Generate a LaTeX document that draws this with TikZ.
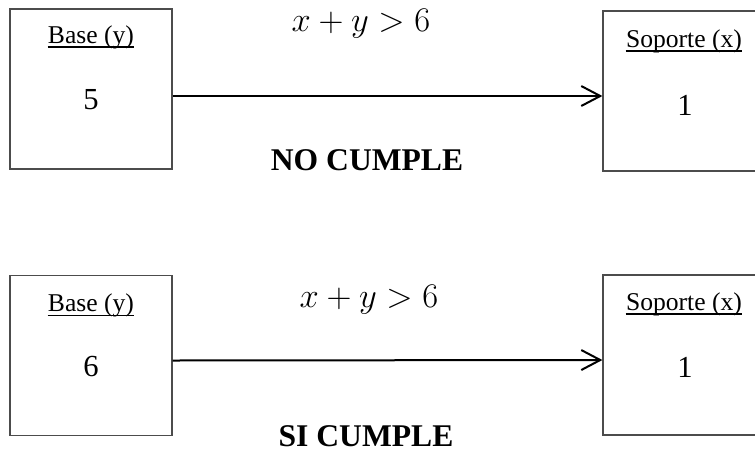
\documentclass[tikz,border=0pt]{standalone}
\usepackage{fontspec}
\setmainfont{Liberation Serif}
\usetikzlibrary{arrows.meta}
\tikzset{
	caja/.style={draw=black!70,line width=0.6pt,minimum width=81pt,minimum height=80pt,inner sep=0pt},
	titulo/.style={anchor=base,inner sep=0pt,font=\fontsize{12.8}{15}\selectfont},
	valor/.style={inner sep=0pt,font=\fontsize{15.3}{18}\selectfont},
	cond/.style={inner sep=0pt,font=\fontsize{17}{20}\selectfont},
	veredicto/.style={inner sep=0pt,font=\fontsize{15.8}{18}\selectfont\bfseries},
	flecha/.style={line width=1pt,-{Straight Barb[length=9.5pt,width=10pt]}},
	subraya/.style={line width=0.8pt}
}
\begin{document}
\begin{tikzpicture}[x=0.5pt,y=-0.5pt,line cap=butt,line join=miter]
		\clip (0,0) rectangle (755,451);
		% caso 1
		\node[caja] (baseA) at (91,89) {};
		\node[caja] (soporteA) at (684,91) {};
		\node[titulo] (tbaseA) at (91,43) {Base (y)};
		\node[titulo] (tsopA) at (684,47) {Soporte (x)};
		\node[valor] (yA) at (91,100) {5};
		\node[valor] (xA) at (685,105) {1};
		\draw[flecha] ([yshift=-3.5pt]baseA.east) -- ([yshift=-2.5pt]soporteA.west);
		\node[cond] (condA) at (361,24) {$x+y>6$};
		\node[veredicto] (resA) at (367,160) {NO CUMPLE};
		% caso 2
		\node[caja] (baseB) at (91,355.5) {};
		\node[caja] (soporteB) at (684,355) {};
		\node[titulo] (tbaseB) at (91,311.5) {Base (y)};
		\node[titulo] (tsopB) at (684,310) {Soporte (x)};
		\node[valor] (yB) at (91,367) {6};
		\node[valor] (xB) at (685,367) {1};
		\draw[flecha] ([yshift=-2.5pt]baseB.east) -- ([yshift=-2.5pt]soporteB.west);
		\node[cond] (condB) at (369,300) {$x+y>6$};
		\node[veredicto] (resB) at (366,436) {SI CUMPLE};
		% subrayado de los titulos
		\foreach \t in {tbaseA,tsopA,tbaseB,tsopB}
		\draw[subraya] ([yshift=-2pt]\t.base west) -- ([yshift=-2pt]\t.base east);
	\end{tikzpicture}
\end{document}
